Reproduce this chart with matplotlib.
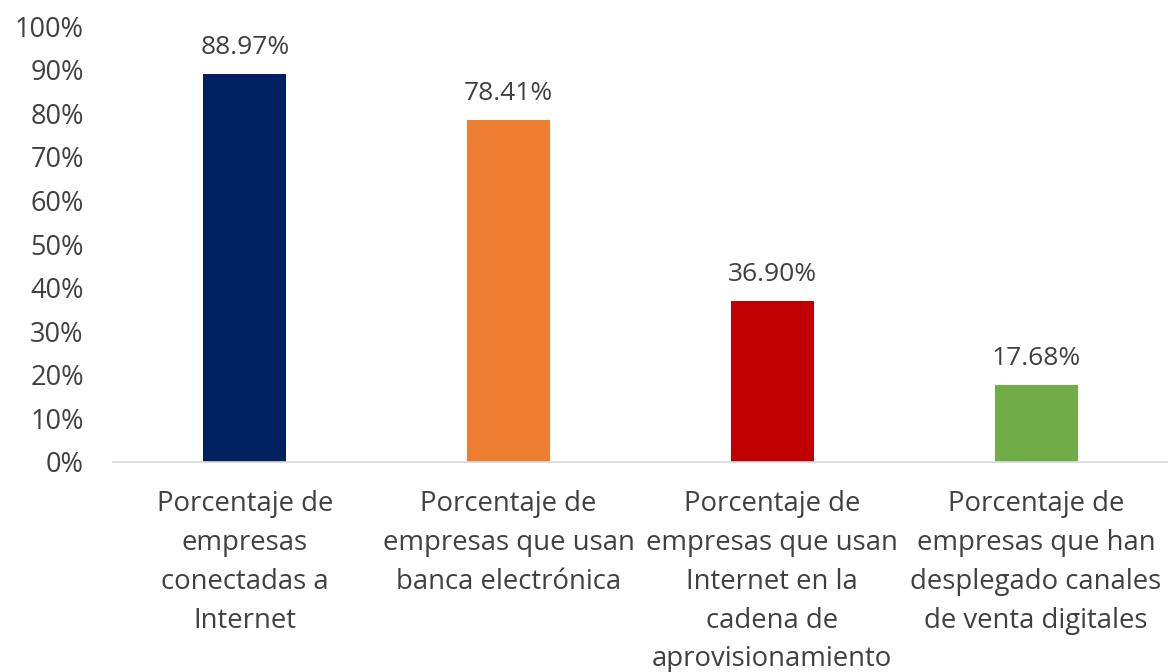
import matplotlib
matplotlib.use("Agg")
import matplotlib.pyplot as plt
from matplotlib.ticker import FuncFormatter

categories = [
    "Porcentaje de\nempresas\nconectadas a\nInternet",
    "Porcentaje de\nempresas que usan\nbanca electrónica",
    "Porcentaje de\nempresas que usan\nInternet en la\ncadena de\naprovisionamiento",
    "Porcentaje de\nempresas que han\ndesplegado canales\nde venta digitales",
]
values = [88.97, 78.41, 36.90, 17.68]
colors = ["#002060", "#ED7D31", "#C00000", "#70AD47"]

plt.rcParams['font.family'] = ['Open Sans', 'DejaVu Sans']
text_color = "#404040"

fig = plt.figure(figsize=(11.68, 6.72), dpi=100)
ax = fig.add_axes([0.0967, 0.3125, 0.9033, 0.6485])

x = range(len(values))
bars = ax.bar(x, values, width=0.315, color=colors)
for xi, v in zip(x, values):
    ax.text(xi, v + 3.3, f"{v:.2f}%", ha="center", va="bottom", fontsize=19, color=text_color)

ax.set_xlim(-0.5, 3.5)
ax.set_ylim(0, 100)
ax.set_yticks(range(0, 101, 10))
ax.yaxis.set_major_formatter(FuncFormatter(lambda v, p: f"{int(v)}%"))
ax.set_xticks(list(x))
ax.set_xticklabels(categories, fontsize=19.8, color=text_color, linespacing=1.52)
ax.tick_params(axis='y', labelsize=19.5, labelcolor=text_color, length=0, pad=21)
ax.tick_params(axis='x', length=0, pad=20)
for s in ["top", "right", "left"]:
    ax.spines[s].set_visible(False)
ax.spines["bottom"].set_color("#D9D9D9")
ax.spines["bottom"].set_linewidth(1.2)

fig.savefig("out.png", dpi=100)
